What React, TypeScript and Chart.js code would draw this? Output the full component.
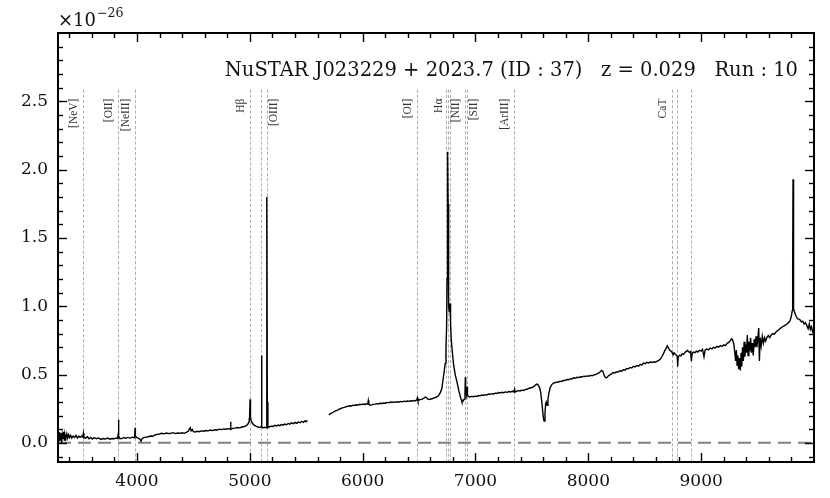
import { useEffect, useRef } from "react";
import { Chart, registerables } from "chart.js";

Chart.register(...registerables);

// ---- data ----
const wavelength: (number)[] = [
  3302, 3308, 3314, 3320, 3326, 3332, 3338, 3344, 3350, 3356, 3362, 3370, 3378, 3386, 3394, 3402, 3412, 3422, 3435, 3448,
  3460, 3472, 3485, 3498, 3510, 3520, 3525, 3530, 3545, 3560, 3575, 3590, 3605, 3620, 3640, 3660, 3680, 3700, 3720, 3740,
  3760, 3780, 3800, 3815, 3828, 3833, 3836, 3839, 3845, 3860, 3880, 3900, 3920, 3940, 3960, 3975, 3980, 3983, 3986, 3995,
  4010, 4025, 4035, 4045, 4060, 4080, 4100, 4120, 4140, 4160, 4180, 4200, 4220, 4240, 4260, 4280, 4300, 4320, 4340, 4360,
  4380, 4400, 4420, 4440, 4455, 4465, 4472, 4480, 4490, 4500, 4515, 4530, 4550, 4570, 4590, 4610, 4630, 4650, 4670, 4690,
  4710, 4730, 4750, 4770, 4790, 4810, 4825, 4829, 4833, 4850, 4870, 4890, 4910, 4930, 4950, 4965, 4980, 4992, 4998, 5002,
  5006, 5012, 5022, 5035, 5050, 5065, 5080, 5095, 5101, 5104, 5107, 5115, 5130, 5145, 5149, 5152, 5155, 5160, 5175, 5190,
  5205, 5220, 5235, 5250, 5265, 5280, 5295, 5310, 5325, 5340, 5355, 5370, 5385, 5400, 5415, 5430, 5445, 5460, 5475, 5490,
  5500, 5510,
  5600,
  5700, 5712, 5725, 5738, 5750, 5765, 5780, 5795, 5810, 5825, 5840, 5855, 5870, 5885, 5900, 5915, 5930, 5945, 5960, 5975,
  5990, 6005, 6020, 6035, 6045, 6050, 6055, 6065, 6080, 6095, 6110, 6125, 6140, 6155, 6170, 6185, 6200, 6215, 6230, 6245,
  6260, 6275, 6290, 6305, 6320, 6335, 6350, 6365, 6380, 6395, 6410, 6425, 6440, 6455, 6470, 6480, 6485, 6490, 6500, 6515,
  6530, 6545, 6555, 6565, 6575, 6590, 6605, 6620, 6635, 6650, 6665, 6680, 6692, 6702, 6712, 6722, 6731, 6738, 6744, 6748,
  6751, 6754, 6757, 6760, 6764, 6768, 6772, 6775, 6779, 6785, 6793, 6805, 6820, 6835, 6850, 6862, 6872, 6880, 6890, 6900,
  6907, 6910, 6913, 6920, 6925, 6929, 6938, 6950, 6965, 6980, 6995, 7010, 7025, 7040, 7055, 7070, 7085, 7100, 7115, 7130,
  7145, 7160, 7175, 7190, 7205, 7220, 7235, 7250, 7265, 7280, 7295, 7310, 7325, 7340, 7347, 7352, 7365, 7380, 7395, 7410,
  7425, 7440, 7455, 7470, 7485, 7500, 7512, 7525, 7538, 7548, 7558, 7568, 7578, 7588, 7598, 7605, 7610, 7616, 7622, 7628,
  7634, 7642, 7652, 7662, 7675, 7690, 7705, 7720, 7735, 7750, 7765, 7780, 7795, 7810, 7825, 7840, 7855, 7870, 7885, 7900,
  7915, 7930, 7945, 7960, 7975, 7990, 8005, 8020, 8035, 8050, 8065, 8080, 8095, 8108, 8118, 8128, 8138, 8148, 8158, 8168,
  8178, 8190, 8205, 8220, 8235, 8250, 8265, 8280, 8295, 8310, 8325, 8340, 8355, 8370, 8385, 8400, 8415, 8430, 8445, 8460,
  8475, 8490, 8505, 8520, 8535, 8550, 8565, 8580, 8595, 8610, 8625, 8640, 8652, 8664, 8676, 8688, 8700, 8710, 8720, 8732,
  8744, 8752, 8760, 8770, 8780, 8788, 8792, 8797, 8808, 8820, 8832, 8844, 8856, 8868, 8878, 8888, 8898, 8906, 8913, 8920,
  8932, 8945, 8958, 8970, 8985, 9000, 9012, 9025, 9035, 9050, 9065, 9080, 9095, 9110, 9125, 9140, 9155, 9170, 9185, 9200,
  9215, 9230, 9245, 9258, 9270, 9280, 9290, 9298, 9306, 9312, 9318, 9325, 9332, 9340, 9347, 9354, 9360, 9367, 9374, 9381,
  9388, 9395, 9402, 9409, 9416, 9423, 9430, 9438, 9446, 9454, 9462, 9470, 9478, 9486, 9494, 9502, 9510, 9516, 9523, 9532,
  9542, 9552, 9562, 9572, 9584, 9596, 9608, 9620, 9634, 9648, 9662, 9676, 9690, 9704, 9718, 9732, 9746, 9760, 9772, 9784,
  9794, 9802, 9808, 9811, 9814, 9817, 9821, 9830, 9840, 9852, 9864, 9876, 9888, 9900, 9912, 9924, 9936, 9948, 9958, 9968,
  9978, 9988, 9998,
];

const flux: (number | null)[] = [
  0.06, 0.01, 0.08, 0.02, 0.07, 0.0, 0.06, 0.03, 0.08, 0.02, 0.06, 0.03, 0.065, 0.035, 0.06, 0.04, 0.055, 0.035, 0.05, 0.04,
  0.055, 0.035, 0.048, 0.04, 0.05, 0.042, 0.07, 0.04, 0.035, 0.045, 0.03, 0.04, 0.028, 0.038, 0.03, 0.036, 0.025, 0.032, 0.028, 0.035,
  0.027, 0.032, 0.03, 0.036, 0.032, 0.06, 0.17, 0.05, 0.034, 0.03, 0.038, 0.034, 0.04, 0.035, 0.042, 0.038, 0.06, 0.11, 0.05, 0.04,
  0.035, 0.028, 0.012, 0.03, 0.038, 0.042, 0.045, 0.05, 0.048, 0.058, 0.062, 0.065, 0.07, 0.066, 0.072, 0.068, 0.07, 0.075, 0.068, 0.072,
  0.07, 0.074, 0.07, 0.078, 0.085, 0.1, 0.11, 0.088, 0.098, 0.082, 0.08, 0.085, 0.082, 0.088, 0.085, 0.09, 0.088, 0.094, 0.09, 0.096,
  0.094, 0.1, 0.097, 0.102, 0.1, 0.104, 0.102, 0.155, 0.1, 0.106, 0.108, 0.112, 0.11, 0.116, 0.12, 0.125, 0.135, 0.15, 0.19, 0.32,
  0.19, 0.16, 0.145, 0.132, 0.125, 0.118, 0.115, 0.112, 0.12, 0.64, 0.12, 0.11, 0.114, 0.11, 0.3, 1.8, 0.3, 0.112, 0.118, 0.122,
  0.12, 0.128, 0.124, 0.13, 0.126, 0.134, 0.13, 0.138, 0.133, 0.142, 0.137, 0.146, 0.14, 0.15, 0.143, 0.152, 0.147, 0.158, 0.15, 0.162,
  0.155, 0.165,
  null,
  0.205, 0.212, 0.218, 0.224, 0.23, 0.236, 0.24, 0.248, 0.252, 0.258, 0.26, 0.266, 0.268, 0.272, 0.27, 0.276, 0.274, 0.279, 0.277, 0.282,
  0.28, 0.284, 0.281, 0.286, 0.284, 0.31, 0.283, 0.276, 0.278, 0.282, 0.284, 0.287, 0.285, 0.29, 0.288, 0.292, 0.29, 0.296, 0.293, 0.299,
  0.296, 0.3, 0.297, 0.301, 0.298, 0.303, 0.3, 0.305, 0.302, 0.306, 0.304, 0.308, 0.306, 0.31, 0.308, 0.315, 0.33, 0.31, 0.314, 0.318,
  0.32, 0.328, 0.335, 0.332, 0.322, 0.318, 0.321, 0.325, 0.33, 0.334, 0.34, 0.355, 0.375, 0.4, 0.46, 0.52, 0.58, 0.68, 0.85, 1.2,
  1.7, 2.13, 1.75, 1.25, 1.0, 0.96, 1.0, 1.02, 0.88, 0.76, 0.68, 0.58, 0.5, 0.45, 0.39, 0.35, 0.32, 0.3, 0.305, 0.32,
  0.37, 0.48, 0.38, 0.35, 0.41, 0.35, 0.34, 0.336, 0.34, 0.338, 0.342, 0.34, 0.346, 0.344, 0.35, 0.347, 0.353, 0.35, 0.357, 0.355,
  0.36, 0.358, 0.364, 0.362, 0.368, 0.366, 0.37, 0.367, 0.373, 0.37, 0.376, 0.373, 0.378, 0.374, 0.392, 0.372, 0.378, 0.382, 0.38, 0.386,
  0.384, 0.39, 0.392, 0.398, 0.402, 0.405, 0.41, 0.418, 0.428, 0.43, 0.42, 0.405, 0.37, 0.3, 0.21, 0.165, 0.16, 0.22, 0.29, 0.3,
  0.275, 0.32, 0.37, 0.405, 0.425, 0.438, 0.44, 0.446, 0.444, 0.452, 0.45, 0.458, 0.456, 0.464, 0.462, 0.47, 0.468, 0.476, 0.474, 0.48,
  0.478, 0.484, 0.482, 0.488, 0.486, 0.49, 0.488, 0.494, 0.492, 0.498, 0.5, 0.506, 0.512, 0.522, 0.53, 0.525, 0.5, 0.482, 0.476, 0.48,
  0.49, 0.498, 0.505, 0.515, 0.512, 0.52, 0.518, 0.528, 0.525, 0.535, 0.532, 0.545, 0.542, 0.552, 0.548, 0.56, 0.556, 0.566, 0.562, 0.574,
  0.57, 0.584, 0.58, 0.59, 0.585, 0.592, 0.588, 0.594, 0.59, 0.598, 0.604, 0.615, 0.632, 0.65, 0.672, 0.69, 0.71, 0.695, 0.68, 0.672,
  0.66, 0.645, 0.66, 0.65, 0.642, 0.635, 0.56, 0.63, 0.64, 0.636, 0.652, 0.648, 0.662, 0.67, 0.676, 0.668, 0.662, 0.668, 0.6, 0.655,
  0.665, 0.66, 0.672, 0.665, 0.678, 0.672, 0.684, 0.63, 0.68, 0.686, 0.68, 0.694, 0.688, 0.7, 0.695, 0.706, 0.7, 0.712, 0.706, 0.718,
  0.712, 0.728, 0.735, 0.748, 0.762, 0.75, 0.72, 0.66, 0.6, 0.68, 0.57, 0.64, 0.54, 0.62, 0.53, 0.66, 0.56, 0.7, 0.6, 0.74,
  0.63, 0.72, 0.66, 0.79, 0.64, 0.74, 0.67, 0.77, 0.66, 0.73, 0.64, 0.76, 0.7, 0.78, 0.7, 0.76, 0.84, 0.6, 0.77, 0.71,
  0.78, 0.73, 0.77, 0.745, 0.775, 0.785, 0.77, 0.79, 0.8, 0.795, 0.81, 0.82, 0.83, 0.84, 0.848, 0.855, 0.862, 0.87, 0.878, 0.89,
  0.91, 0.94, 0.97, 1.3, 1.93, 1.25, 0.98, 0.95, 0.93, 0.91, 0.905, 0.9, 0.885, 0.89, 0.87, 0.88, 0.86, 0.835, 0.87, 0.83,
  0.85, 0.81, 0.8,
];

const xTickValues = [4000, 5000, 6000, 7000, 8000, 9000];
const yTickValues = [0.0, 0.5, 1.0, 1.5, 2.0, 2.5];

const redshift = 0.029;
const lineNames = ["[NeV]", "[OII]", "[NeIII]", "H\u03B2", "[OIII]", "[OI]", "H\u03B1", "[NII]", "[SII]", "[ArIII]", "CaT"];
const lineRestWaves: number[][] = [
  [3426], [3727], [3869], [4861], [4959, 5007], [6300], [6563], [6548, 6583], [6716, 6731], [7136], [8498, 8542, 8662],
];
// label anchored to left (-1) or right (+1) of its line group
const labelSide = [-1, -1, -1, -1, 1, -1, -1, 1, 1, -1, -1];

const titleText = "NuSTAR J023229 + 2023.7 (ID : 37)   z = 0.029   Run : 10";

const SERIF = "'DejaVu Serif', serif";

const overlay = {
  id: "overlay",
  beforeDatasetsDraw(chart: any) {
    const { ctx, chartArea: a, scales } = chart;
    const x = scales.x;
    const y = scales.y;
    ctx.save();
    ctx.beginPath();
    ctx.rect(a.left, a.top, a.right - a.left, a.bottom - a.top);
    ctx.clip();
    // emission-line markers
    const yTop = y.getPixelForValue(2.6);
    ctx.strokeStyle = "#a6a6a6";
    ctx.lineWidth = 0.9;
    ctx.setLineDash([3.2, 2]);
    lineRestWaves.forEach((g) =>
      g.forEach((w) => {
        const px = Math.round(x.getPixelForValue(w * (1 + redshift))) + 0.5;
        ctx.beginPath();
        ctx.moveTo(px, a.bottom);
        ctx.lineTo(px, yTop);
        ctx.stroke();
      })
    );
    // zero line
    const y0 = y.getPixelForValue(0);
    ctx.setLineDash([13, 7]);
    ctx.strokeStyle = "#808080";
    ctx.lineWidth = 2;
    ctx.beginPath();
    ctx.moveTo(a.left, y0);
    ctx.lineTo(a.right, y0);
    ctx.stroke();
    ctx.setLineDash([]);
    // labels
    const labTop = y.getPixelForValue(2.52);
    ctx.fillStyle = "#333";
    ctx.font = "11.5px 'Liberation Serif', serif";
    ctx.textAlign = "right";
    ctx.textBaseline = "middle";
    lineNames.forEach((name, i) => {
      const g = lineRestWaves[i];
      const side = labelSide[i];
      let ref: number;
      if (name === "H\u03B1") ref = 6563;
      else ref = side < 0 ? g[0] : g[g.length - 1];
      const px = x.getPixelForValue(ref * (1 + redshift)) + (side < 0 ? -9 : 6.5);
      ctx.save();
      ctx.translate(px, labTop);
      ctx.rotate(-Math.PI / 2);
      ctx.fillText(name, 0, 0);
      ctx.restore();
    });
    ctx.restore();
  },
  afterDraw(chart: any) {
    const { ctx, chartArea: a, scales } = chart;
    const x = scales.x;
    const y = scales.y;
    ctx.save();
    ctx.strokeStyle = "#000";
    // ticks
    ctx.lineWidth = 1.4;
    const tick = (x1: number, y1: number, x2: number, y2: number) => {
      ctx.beginPath();
      ctx.moveTo(x1, y1);
      ctx.lineTo(x2, y2);
      ctx.stroke();
    };
    for (let v = 3400; v <= 9800; v += 200) {
      const major = v % 1000 === 0;
      const len = major ? 9 : 5;
      const px = Math.round(x.getPixelForValue(v)) + 0.5;
      tick(px, a.bottom, px, a.bottom - len);
      tick(px, a.top, px, a.top + len);
    }
    for (let k = -1; k <= 29; k++) {
      const v = k / 10;
      const major = k % 5 === 0;
      const len = major ? 9 : 5;
      const py = Math.round(y.getPixelForValue(v)) + 0.5;
      tick(a.left, py, a.left + len, py);
      tick(a.right, py, a.right - len, py);
    }
    // frame
    ctx.lineWidth = 2;
    ctx.strokeRect(a.left, a.top, a.right - a.left, a.bottom - a.top);
    // title
    ctx.fillStyle = "#111";
    ctx.font = "19.5px " + SERIF;
    ctx.textAlign = "right";
    ctx.textBaseline = "alphabetic";
    ctx.fillText(titleText, a.right - 16, 76);
    // offset (exponent)
    ctx.textAlign = "left";
    ctx.font = "18px " + SERIF;
    const base = "\u00D710";
    ctx.fillText(base, a.left, 26);
    const w = ctx.measureText(base).width;
    ctx.font = "12.5px " + SERIF;
    ctx.fillText("\u221226", a.left + w + 1, 17);
    ctx.restore();
  },
};

export default function App() {
  const ref = useRef<HTMLCanvasElement | null>(null);
  useEffect(() => {
    document.body.style.margin = "0";
    const canvas = ref.current;
    if (!canvas) return;
    const points = wavelength.map((w, i) => ({ x: w, y: flux[i] }));
    const chart = new Chart(canvas, {
      type: "line",
      data: {
        datasets: [
          {
            data: points as any,
            borderColor: "#000",
            borderWidth: 1.4,
            pointRadius: 0,
            tension: 0,
            spanGaps: false,
          },
        ],
      },
      options: {
        animation: false,
        responsive: false,
        devicePixelRatio: 1,
        layout: { padding: { left: 8, right: 16, top: 33, bottom: 0 } },
        plugins: { legend: { display: false }, tooltip: { enabled: false }, title: { display: false } },
        scales: {
          x: {
            type: "linear",
            min: 3300,
            max: 10000,
            offset: false,
            grid: { display: false, drawTicks: false },
            border: { display: false },
            afterBuildTicks: (s: any) => {
              s.ticks = xTickValues.map((v) => ({ value: v }));
            },
            afterFit: (s: any) => {
              s.height = 36;
            },
            ticks: {
              padding: 9,
              autoSkip: false,
              maxRotation: 0,
              color: "#111",
              font: { family: SERIF, size: 17 },
              callback: (v: any) => String(v),
            },
          },
          y: {
            type: "linear",
            min: -0.14,
            max: 3.0,
            grid: { display: false, drawTicks: false },
            border: { display: false },
            afterBuildTicks: (s: any) => {
              s.ticks = yTickValues.map((v) => ({ value: v }));
            },
            afterFit: (s: any) => {
              s.width = 50;
            },
            ticks: {
              padding: 10,
              color: "#111",
              font: { family: SERIF, size: 17 },
              callback: (v: any) => Number(v).toFixed(1),
            },
          },
        },
      },
      plugins: [overlay],
    });
    return () => chart.destroy();
  }, []);
  return (
    <div style={{ position: "absolute", left: 0, top: 0, width: 830, height: 498 }}>
      <canvas ref={ref} width={830} height={498} style={{ width: 830, height: 498, display: "block" }} />
    </div>
  );
}
